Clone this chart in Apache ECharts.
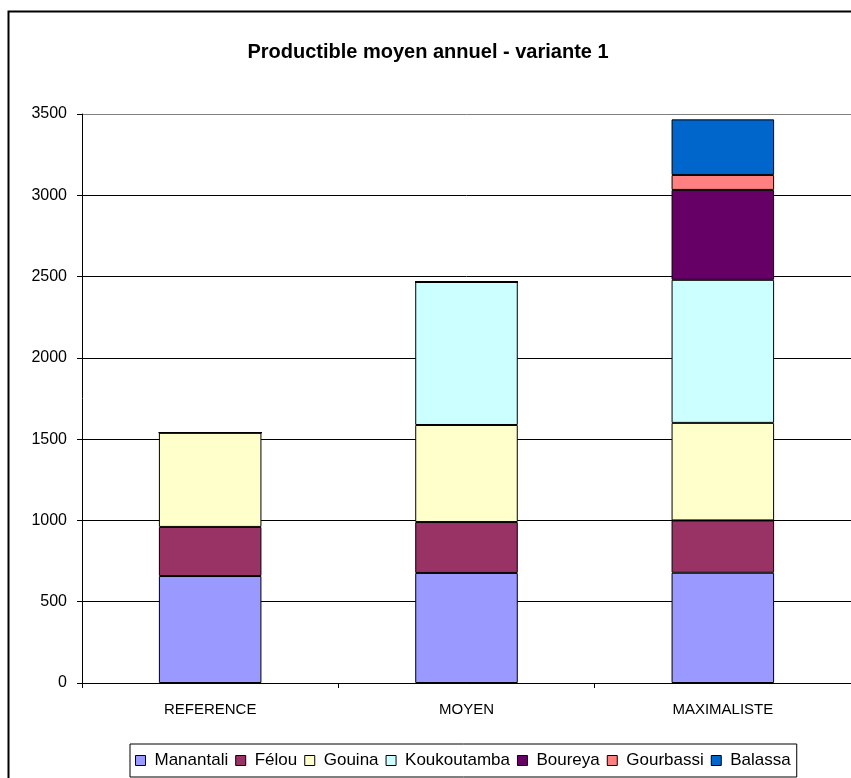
<!DOCTYPE html>
<html><head><meta charset="utf-8">
<script src="https://cdn.jsdelivr.net/npm/echarts@6/dist/echarts.min.js"></script>
<style>html,body{margin:0;padding:0;background:#fff}#c{width:851px;height:778px}</style>
</head><body><div id="c"></div>
<script>
const categories = ['REFERENCE', 'MOYEN', 'MAXIMALISTE'];
const seriesNames = ['Manantali', 'Félou', 'Gouina', 'Koukoutamba', 'Boureya', 'Gourbassi', 'Balassa'];
const manantali = [658, 677, 678];
const felou = [302, 313, 322];
const gouina = [580, 597, 600];
const koukoutamba = [0, 880, 880];
const boureya = [0, 0, 553];
const gourbassi = [0, 0, 92];
const balassa = [0, 0, 342];
const colors = ['#9999FF', '#993366', '#FFFFCC', '#CCFFFF', '#660066', '#FF8080', '#0066CC'];
const yTicks = [0, 500, 1000, 1500, 2000, 2500, 3000, 3500];

const values = [manantali, felou, gouina, koukoutamba, boureya, gourbassi, balassa];
const FONT = 'Liberation Sans, Arial, sans-serif';
const chart = echarts.init(document.getElementById('c'));
chart.setOption({
  animation: false,
  backgroundColor: '#fff',
  title: {
    text: 'Productible moyen annuel - variante 1',
    left: 423, top: 37, textAlign: 'center',
    textStyle: {fontFamily: FONT, fontSize: 20, fontWeight: 'bold', color: '#000'}
  },
  graphic: [{
    type: 'rect', shape: {x: 8.5, y: 11.5, width: 1000, height: 1000},
    style: {fill: 'none', stroke: '#000', lineWidth: 2}, z: -1
  }],
  legend: {
    data: seriesNames,
    left: 130, top: 744,
    width: 760,
    padding: [8, 6, 8, 5],
    borderColor: '#000', borderWidth: 1,
    itemWidth: 10, itemHeight: 10, itemGap: 7,
    icon: 'rect',
    textStyle: {fontFamily: FONT, fontSize: 17, color: '#000', padding: [0, 0, 0, 4]},
    itemStyle: {borderColor: '#000', borderWidth: 1}
  },
  grid: {left: 82, right: -2, top: 114, bottom: 95, containLabel: false},
  xAxis: {
    type: 'category', data: categories,
    axisLine: {lineStyle: {color: '#000', width: 1}},
    axisTick: {show: true, length: 5, lineStyle: {color: '#000'}},
    axisLabel: {fontFamily: FONT, fontSize: 15, color: '#000', margin: 19}
  },
  yAxis: {
    type: 'value', min: 0, max: 3500, interval: 500,
    axisLine: {show: true, lineStyle: {color: '#000', width: 1}},
    axisTick: {show: true, length: 5, lineStyle: {color: '#000'}},
    axisLabel: {fontFamily: FONT, fontSize: 16, color: '#000', margin: 15,
      formatter: v => yTicks.includes(v) ? String(v) : ''},
    splitLine: {show: true, lineStyle: {color: ['#000', '#000', '#000', '#000', '#000', '#000', '#000', '#808080'], width: 1}}
  },
  series: seriesNames.map((n, i) => ({
    name: n, type: 'bar', stack: 'total', barWidth: '40%',
    data: values[i],
    itemStyle: {color: colors[i], borderColor: '#000', borderWidth: 1}
  }))
});
</script></body></html>
